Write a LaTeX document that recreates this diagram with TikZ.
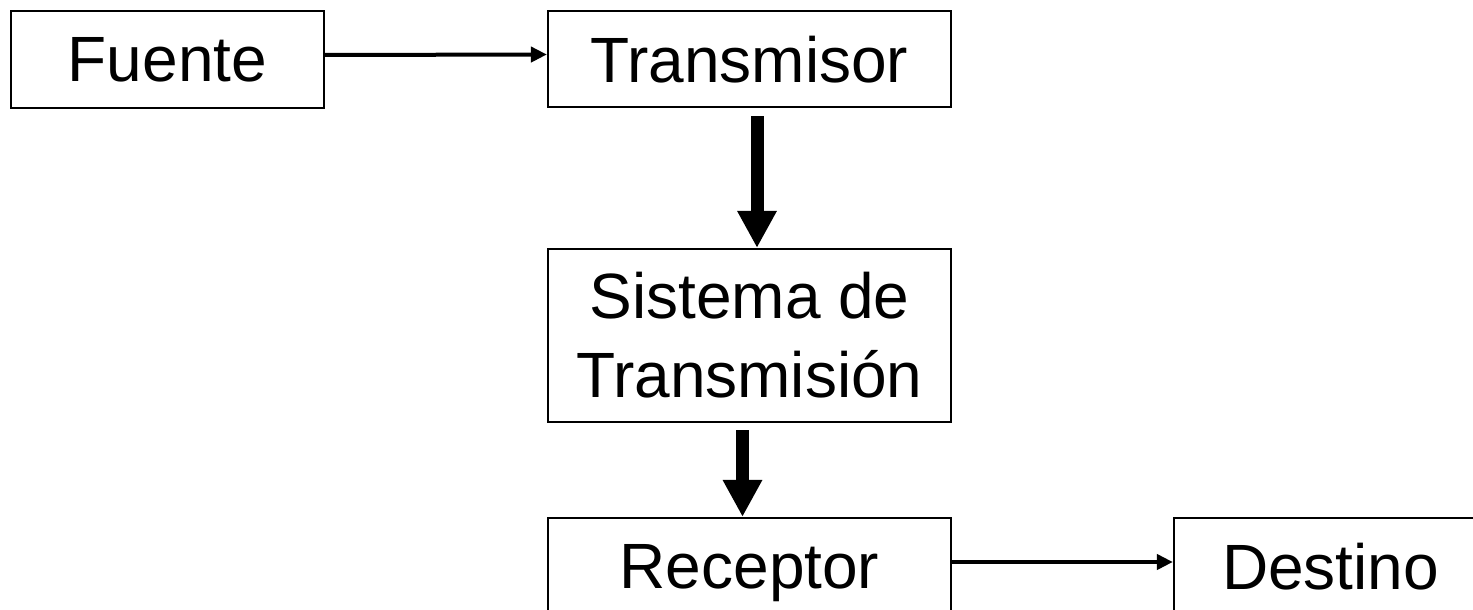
\documentclass[tikz,border=0pt]{standalone}
\usepackage{fontspec}
\setmainfont{Liberation Sans}
\usetikzlibrary{arrows.meta}
\tikzset{
  box/.style={draw=black, line width=2.2pt, inner sep=0pt, align=center,
    font=\fontsize{64}{79}\selectfont},
  word/.style={text depth=0pt},
  thin/.style={line width=4pt, -{Triangle[length=16pt,width=15pt]}},
  thick/.style={line width=13pt, -{Triangle[length=37pt,width=37pt]}}
}
\begin{document}
\begin{tikzpicture}[x=1pt,y=-1pt]
\useasboundingbox (0,0) rectangle (1473,610);
\node[box, word, minimum width=313pt, minimum height=97pt] (f) at (167.5,59.5) {Fuente};
\node[box, word, minimum width=403pt, minimum height=96pt] (t) at (749.5,59) {Transmisor};
\node[box, minimum width=403pt, minimum height=173pt] (s) at (749.5,335.5) {Sistema de\\Transmisión};
\node[box, word, minimum width=403pt, minimum height=97pt] (r) at (749.5,566.5) {Receptor};
\node[box, word, minimum width=306pt, minimum height=97pt, text width=296pt, align=left] (d) at (1327,566.5) {\hspace*{43pt}Destino};
\draw[thin] ([yshift=4.5pt]f.east) -- ([yshift=4.5pt]t.west);
\draw[thin] ([yshift=4.5pt]r.east) -- ([yshift=4.5pt]d.west);
\draw[thick, shorten <=8pt] ([xshift=7.5pt]t.south) -- ([xshift=7.5pt]s.north);
\draw[thick, shorten <=7pt] ([xshift=-7pt]s.south) -- ([xshift=-7pt]r.north);
\end{tikzpicture}
\end{document}
